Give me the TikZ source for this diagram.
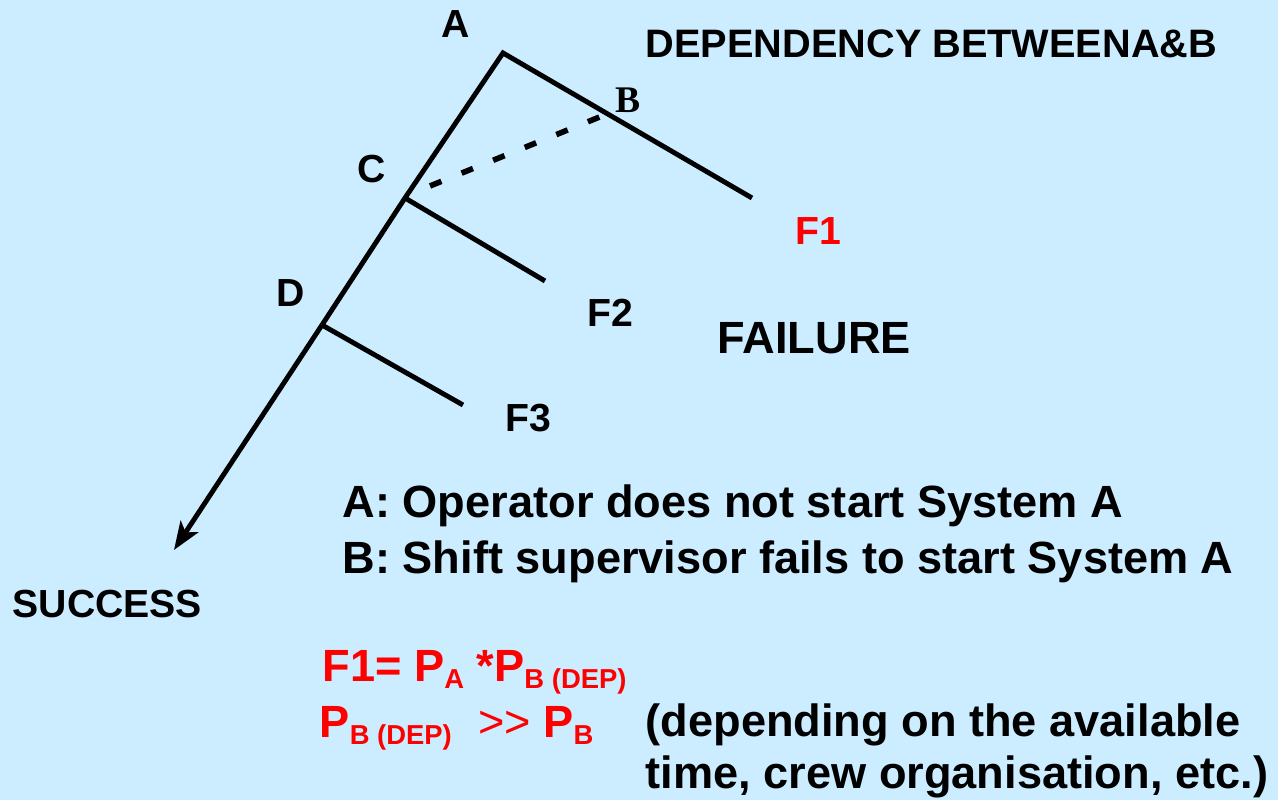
\documentclass[tikz,border=0pt]{standalone}
\usepackage{fontspec}
\setmainfont{Liberation Sans}
\newfontfamily\timesbold{Liberation Serif}
\usetikzlibrary{arrows.meta}

\definecolor{slideblue}{RGB}{204,236,255}
\definecolor{fred}{RGB}{255,0,0}

\newcommand{\lowidx}[1]{\raisebox{-1.8pt}{\fontsize{7.8}{9}\selectfont #1}}

\begin{document}
\begin{tikzpicture}[
    branch/.style={black, line width=1.4pt},
    lbl/.style={anchor=base west, inner sep=0pt, font=\bfseries\fontsize{11.15}{13}\selectfont},
    bigtxt/.style={anchor=base west, inner sep=0pt, font=\bfseries\fontsize{12.85}{15}\selectfont}
  ]

  \fill[slideblue] (0,0) rectangle (12.78,8);
  \useasboundingbox (0,0) rectangle (12.78,8);

  % tree points
  \coordinate (A) at (5.03,7.47);
  \coordinate (B) at (6.07,6.86);
  \coordinate (Bdash) at (4.30,6.14);
  \coordinate (F1end) at (7.52,6.02);
  \coordinate (C) at (4.05,6.02);
  \coordinate (F2end) at (5.45,5.19);
  \coordinate (D) at (3.22,4.75);
  \coordinate (F3end) at (4.63,3.95);
  \coordinate (tip) at (1.74,2.50);

  % event tree
  \draw[branch, line join=miter] (F1end) -- (A) -- (C) -- (D);
  \draw[branch, -{Stealth[length=8pt, width=6pt, inset=2pt]}] (D) -- (tip);
  \draw[branch] (C) -- (F2end);
  \draw[branch] (D) -- (F3end);

  % dependency of B on A
  \draw[black, line width=1.6pt, dash pattern=on 3.5pt off 6.2pt] (Bdash) -- (B);

  % branch labels
  \node[lbl] (lA) at (4.41,7.62) {A};
  \node[anchor=base west, inner sep=0pt, font=\timesbold\bfseries\fontsize{10.7}{12}\selectfont] (lB) at (6.15,6.87) {B};
  \node[lbl] (lC) at (3.57,6.17) {C};
  \node[lbl] (lD) at (2.76,4.93) {D};
  \node[lbl, fred] (lF1) at (7.95,5.55) {F1};
  \node[lbl] (lF2) at (5.87,4.73) {F2};
  \node[lbl] (lF3) at (5.05,3.68) {F3};
  \node[bigtxt] (fail) at (7.17,4.46) {FAILURE};
  \node[lbl] (succ) at (0.12,1.82) {SUCCESS};
  \node[lbl, font=\bfseries\fontsize{11.3}{13}\selectfont] (title) at (6.45,7.42) {DEPENDENCY BETWEENA\&B};

  % events
  \node[bigtxt] (evA) at (3.42,2.82) {A: Operator does not start System A};
  \node[bigtxt] (evB) at (3.42,2.26) {B: Shift supervisor fails to start System A};

  % formula
  \node[bigtxt, fred] (form1) at (3.22,1.18) {F1= P\lowidx{A} *P\lowidx{B (DEP)}};
  \node[bigtxt, fred] (form2) at (3.19,0.62) {P\lowidx{B (DEP)}\hspace{7.5pt}{\mdseries >{}>} P\lowidx{B}};
  \node[bigtxt] (note1) at (6.45,0.63) {(depending on the available};
  \node[bigtxt] (note2) at (6.45,0.11) {time, crew organisation, etc.)};

\end{tikzpicture}
\end{document}
